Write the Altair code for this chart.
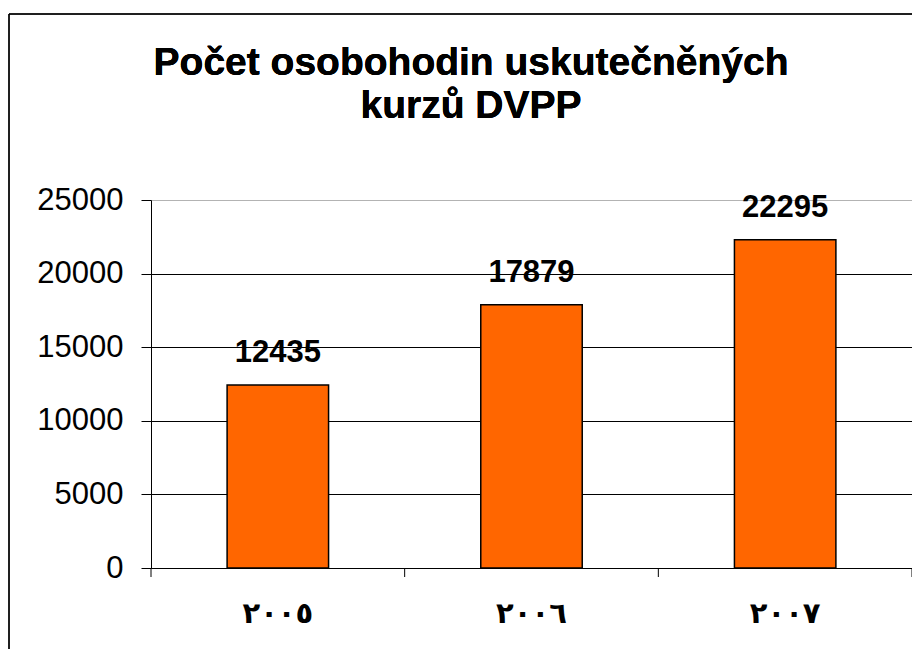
import altair as alt
import pandas as pd

years = ["٢٠٠٥", "٢٠٠٦", "٢٠٠٧"]
hours = [12435, 17879, 22295]
y_ticks = [0, 5000, 10000, 15000, 20000, 25000]
title_lines = ["Počet osobohodin uskutečněných", "kurzů DVPP"]
category_edges = [0, 1, 2, 3]

df = pd.DataFrame({"year": years, "hours": hours})
edges = pd.DataFrame({"edge": category_edges})

W, H = 761, 368
band = alt.Scale(paddingInner=0.6, paddingOuter=0.3)

x = alt.X("year:N", sort=years, title=None, scale=band,
          axis=alt.Axis(labelAngle=0, labelFont="DejaVu Sans", labelFontWeight="bold",
                        labelFontSize=29, labelColor="black", labelPadding=31,
                        ticks=False, domainColor="black", grid=False))
y = alt.Y("hours:Q", title=None,
          scale=alt.Scale(domain=[0, 25000], nice=False),
          axis=alt.Axis(values=y_ticks, format="d", labelFont="Liberation Sans", labelFontSize=31,
                        labelColor="black", labelPadding=18, tickSize=10, tickColor="black",
                        domainColor="black", labelFlush=False,
                        gridColor={"condition": {"test": "datum.value === 25000", "value": "#b3b3b3"},
                                   "value": "black"},
                        gridOpacity=1))

base = alt.Chart(df)

bars = base.mark_bar(color="#FF6600", stroke="black", strokeWidth=1.5).encode(x=x, y=y)

labels = base.mark_text(font="Liberation Sans", fontWeight="bold", fontSize=31,
                        baseline="alphabetic", dy=-23, color="black").encode(
    x=alt.X("year:N", sort=years), y="hours:Q", text="hours:Q")

bars_and_labels = alt.layer(bars, labels)

xticks = alt.Chart(edges).mark_rule(color="black", strokeWidth=1).encode(
    x=alt.X("edge:Q", scale=alt.Scale(domain=[0, 3], nice=False, zero=False), axis=None),
    y=alt.value(H), y2=alt.value(H + 9))

title = alt.Chart(df).mark_text(text=title_lines, font="Liberation Sans", fontSize=39,
                                fontWeight="bold", color="black", align="center",
                                baseline="alphabetic", lineHeight=43).encode(
    x=alt.value(320), y=alt.value(-125))

frame_left = alt.Chart(df).mark_rule(color="black", strokeWidth=1).encode(
    x=alt.value(-142), y=alt.value(-186), y2=alt.value(460))
frame_top = alt.Chart(df).mark_rule(color="black", strokeWidth=1).encode(
    x=alt.value(-142), x2=alt.value(780), y=alt.value(-186))

chart = alt.layer(frame_left, frame_top, title, bars_and_labels, xticks).resolve_scale(
    x="independent"
).properties(
    width=W, height=H,
    autosize=alt.AutoSizeParams(type="none"),
    padding={"left": 143, "top": 192, "right": 0, "bottom": 81},
).configure_view(stroke="#b3b3b3", strokeWidth=1).configure(background="white")

chart.save("out.html", embed_options={"renderer": "svg", "actions": False})
